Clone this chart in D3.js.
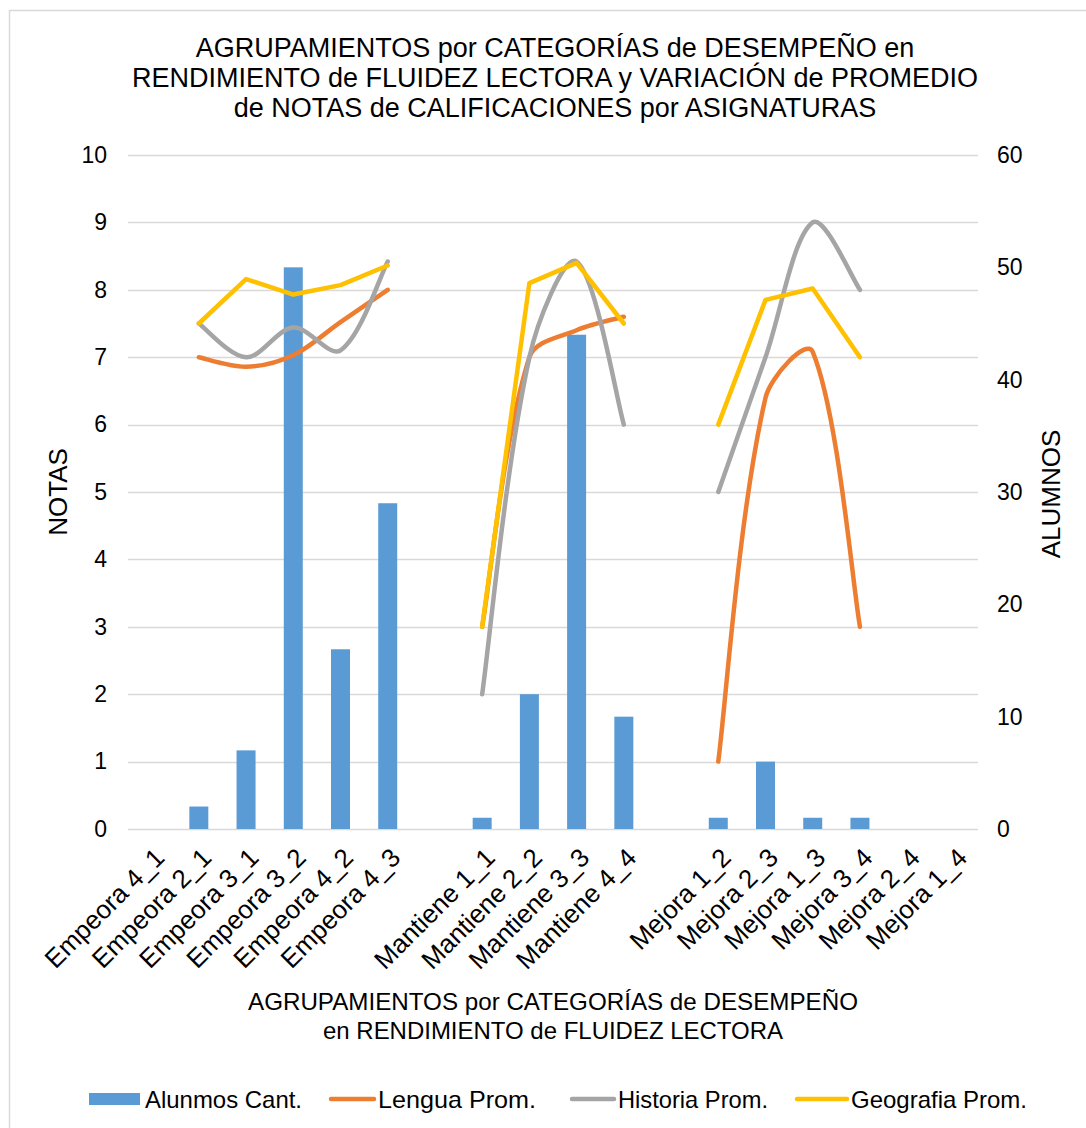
<!DOCTYPE html>
<html>
<head>
<meta charset="utf-8">
<script src="https://cdn.jsdelivr.net/npm/d3@7"></script>
<style>
  html, body { margin: 0; padding: 0; background: #fff; }
  svg { display: block; font-family: "Liberation Sans", Arial, sans-serif; }
</style>
</head>
<body>
<svg id="chart" width="1086" height="1128"></svg>
<script>
// Categories along the x axis (empty strings are spacer slots between groups)
const categories = [
  "Empeora 4_1", "Empeora 2_1", "Empeora 3_1", "Empeora 3_2", "Empeora 4_2", "Empeora 4_3",
  "",
  "Mantiene 1_1", "Mantiene 2_2", "Mantiene 3_3", "Mantiene 4_4",
  "",
  "Mejora 1_2", "Mejora 2_3", "Mejora 1_3", "Mejora 3_4", "Mejora 2_4", "Mejora 1_4"
];

// Number of students per category (right axis)
const alumnos = [0, 2, 7, 50, 16, 29, null, 1, 12, 44, 10, null, 1, 6, 1, 1, null, null];

// Average grades per subject (left axis)
const lengua    = [null, 7.0, 6.86, 7.03, 7.52, 8.0, null, 3.0, 7.0, 7.4, 7.6, null, 1.0, 6.4, 7.08, 3.0, null, null];
const historia  = [null, 7.5, 7.0, 7.44, 7.1, 8.42, null, 2.0, 7.0, 8.42, 6.0, null, 5.0, 7.0, 9.0, 8.0, null, null];
const geografia = [null, 7.5, 8.16, 7.93, 8.07, 8.36, null, 3.0, 8.1, 8.4, 7.5, null, 6.0, 7.85, 8.02, 7.0, null, null];

// Axis ticks
const leftTicks  = [0, 1, 2, 3, 4, 5, 6, 7, 8, 9, 10];
const rightTicks = [0, 10, 20, 30, 40, 50, 60];

const titleLines = [
  "AGRUPAMIENTOS por CATEGORÍAS de DESEMPEÑO en",
  "RENDIMIENTO de FLUIDEZ LECTORA y VARIACIÓN de PROMEDIO",
  "de NOTAS de CALIFICACIONES por ASIGNATURAS"
];
const xTitleLines = [
  "AGRUPAMIENTOS por CATEGORÍAS de DESEMPEÑO",
  "en RENDIMIENTO de FLUIDEZ LECTORA"
];

const series = [
  { name: "Lengua Prom.",    values: lengua,    color: "#ED7D31", smooth: true },
  { name: "Historia Prom.",  values: historia,  color: "#A5A5A5", smooth: true },
  { name: "Geografia Prom.", values: geografia, color: "#FFC000", smooth: false }
];
const barColor = "#5B9BD5";
const gridColor = "#D9D9D9";

const svg = d3.select("#chart");

// Outer frame
svg.append("rect")
  .attr("x", 9.5).attr("y", 10.5)
  .attr("width", 1100).attr("height", 1140)
  .attr("fill", "#fff").attr("stroke", "#D9D9D9").attr("stroke-width", 1.5);

const plot = { left: 128, right: 978, top: 155, bottom: 829 };

const x = d3.scaleLinear().domain([0, categories.length]).range([plot.left, plot.right]);
const xCenter = i => x(i + 0.5);

const yL = d3.scaleLinear().domain([0, 10]).range([plot.bottom, plot.top]);
const yR = d3.scaleLinear().domain([0, 60]).range([plot.bottom, plot.top]);

// Gridlines
svg.append("g").selectAll("line").data(leftTicks).join("line")
  .attr("x1", plot.left).attr("x2", plot.right)
  .attr("y1", d => Math.round(yL(d)) + 0.5).attr("y2", d => Math.round(yL(d)) + 0.5)
  .attr("stroke", gridColor).attr("stroke-width", 1.5);

// Left axis labels
const leftAxis = d3.axisLeft(yL).tickValues(leftTicks).tickSize(0).tickPadding(21);
const gL = svg.append("g").attr("transform", `translate(${plot.left},0)`).call(leftAxis);
gL.select(".domain").remove();
gL.selectAll("text").attr("font-size", 23).attr("fill", "#000")
  .attr("font-family", "Liberation Sans, Arial, sans-serif");

// Right axis labels
const rightAxis = d3.axisRight(yR).tickValues(rightTicks).tickSize(0).tickPadding(19);
const gR = svg.append("g").attr("transform", `translate(${plot.right},0)`).call(rightAxis);
gR.select(".domain").remove();
gR.selectAll("text").attr("font-size", 23).attr("fill", "#000")
  .attr("font-family", "Liberation Sans, Arial, sans-serif");

// Bars (students, right axis)
const bw = 19;
svg.append("g").selectAll("rect")
  .data(alumnos.map((v, i) => ({ v, i })).filter(d => d.v != null && d.v > 0))
  .join("rect")
  .attr("x", d => xCenter(d.i) - bw / 2)
  .attr("width", bw)
  .attr("y", d => yR(d.v))
  .attr("height", d => yR(0) - yR(d.v))
  .attr("fill", barColor);

// Smoothed path: cubic Bezier through the points, tangent parallel to the
// neighbour chord, control arms weighted by the adjacent segment lengths.
function smoothPath(pts) {
  const p = d3.path();
  const n = pts.length;
  if (!n) return "";
  p.moveTo(pts[0][0], pts[0][1]);
  if (n === 1) return p.toString();
  const dist = (a, b) => Math.hypot(b[0] - a[0], b[1] - a[1]);
  const d = d3.range(n - 1).map(i => dist(pts[i], pts[i + 1]));
  const t = 1 / 3;
  const tangent = i => {
    const a = pts[Math.max(0, i - 1)], b = pts[Math.min(n - 1, i + 1)];
    return [b[0] - a[0], b[1] - a[1]];
  };
  for (let i = 0; i < n - 1; i++) {
    const T0 = tangent(i), T1 = tangent(i + 1);
    const w0 = i === 0 ? 0.5 : d[i] / (d[i - 1] + d[i]);
    const w1 = i + 1 === n - 1 ? 0.5 : d[i] / (d[i] + d[i + 1]);
    const c1 = [pts[i][0] + T0[0] * t * w0, pts[i][1] + T0[1] * t * w0];
    const c2 = [pts[i + 1][0] - T1[0] * t * w1, pts[i + 1][1] - T1[1] * t * w1];
    p.bezierCurveTo(c1[0], c1[1], c2[0], c2[1], pts[i + 1][0], pts[i + 1][1]);
  }
  return p.toString();
}

// Lines (grades, left axis), split into runs at missing values
series.forEach(s => {
  const runs = [];
  let cur = [];
  s.values.forEach((v, i) => {
    if (v == null) { if (cur.length) runs.push(cur); cur = []; }
    else cur.push([xCenter(i), yL(v)]);
  });
  if (cur.length) runs.push(cur);
  const line = d3.line();
  svg.append("g").selectAll("path").data(runs).join("path")
    .attr("d", r => s.smooth ? smoothPath(r) : line(r))
    .attr("fill", "none")
    .attr("stroke", s.color)
    .attr("stroke-width", 4.5)
    .attr("stroke-linecap", "round")
    .attr("stroke-linejoin", "round");
});

// Category labels, rotated
svg.append("g").selectAll("text")
  .data(categories.map((c, i) => ({ c, i })).filter(d => d.c !== ""))
  .join("text")
  .attr("transform", d => `translate(${xCenter(d.i) + 1},${846}) rotate(-45)`)
  .attr("text-anchor", "end")
  .attr("dy", "0.72em")
  .attr("font-size", 26)
  .attr("fill", "#000")
  .text(d => d.c);

// Chart title
svg.append("g").selectAll("text").data(titleLines).join("text")
  .attr("x", 555).attr("y", (d, i) => 57 + i * 30)
  .attr("text-anchor", "middle")
  .attr("font-size", 27)
  .attr("fill", "#000")
  .text(d => d);

// Axis titles
svg.append("text")
  .attr("transform", `translate(67,492) rotate(-90)`)
  .attr("text-anchor", "middle")
  .attr("font-size", 26).attr("fill", "#000")
  .text("NOTAS");
svg.append("text")
  .attr("transform", `translate(1060,494) rotate(-90)`)
  .attr("text-anchor", "middle")
  .attr("font-size", 26).attr("fill", "#000")
  .text("ALUMNOS");

const xTitleWidths = [610, 460];
svg.append("g").selectAll("text").data(xTitleLines).join("text")
  .attr("x", 553).attr("y", (d, i) => 1010 + i * 29)
  .attr("text-anchor", "middle")
  .attr("font-size", 24)
  .attr("textLength", (d, i) => xTitleWidths[i]).attr("lengthAdjust", "spacingAndGlyphs")
  .attr("fill", "#000")
  .text(d => d);

// Legend
const legendItems = [
  { name: "Alunmos Cant.", color: barColor, type: "bar", x: 89, tx: 145, tw: 157 },
  { name: series[0].name, color: series[0].color, type: "line", x: 331, tx: 378, tw: 158 },
  { name: series[1].name, color: series[1].color, type: "line", x: 572, tx: 618, tw: 150 },
  { name: series[2].name, color: series[2].color, type: "line", x: 797, tx: 851, tw: 176 }
];
const lg = svg.append("g");
legendItems.forEach(it => {
  if (it.type === "bar") {
    lg.append("rect").attr("x", it.x).attr("y", 1093).attr("width", 51).attr("height", 12).attr("fill", it.color);
  } else {
    lg.append("line").attr("x1", it.x).attr("x2", it.tx - 4)
      .attr("y1", 1099).attr("y2", 1099)
      .attr("stroke", it.color).attr("stroke-width", 4.5).attr("stroke-linecap", "round");
  }
  lg.append("text").attr("x", it.tx).attr("y", 1108)
    .attr("font-size", 24).attr("fill", "#000")
    .attr("textLength", it.tw).attr("lengthAdjust", "spacingAndGlyphs")
    .text(it.name);
});
</script>
</body>
</html>
